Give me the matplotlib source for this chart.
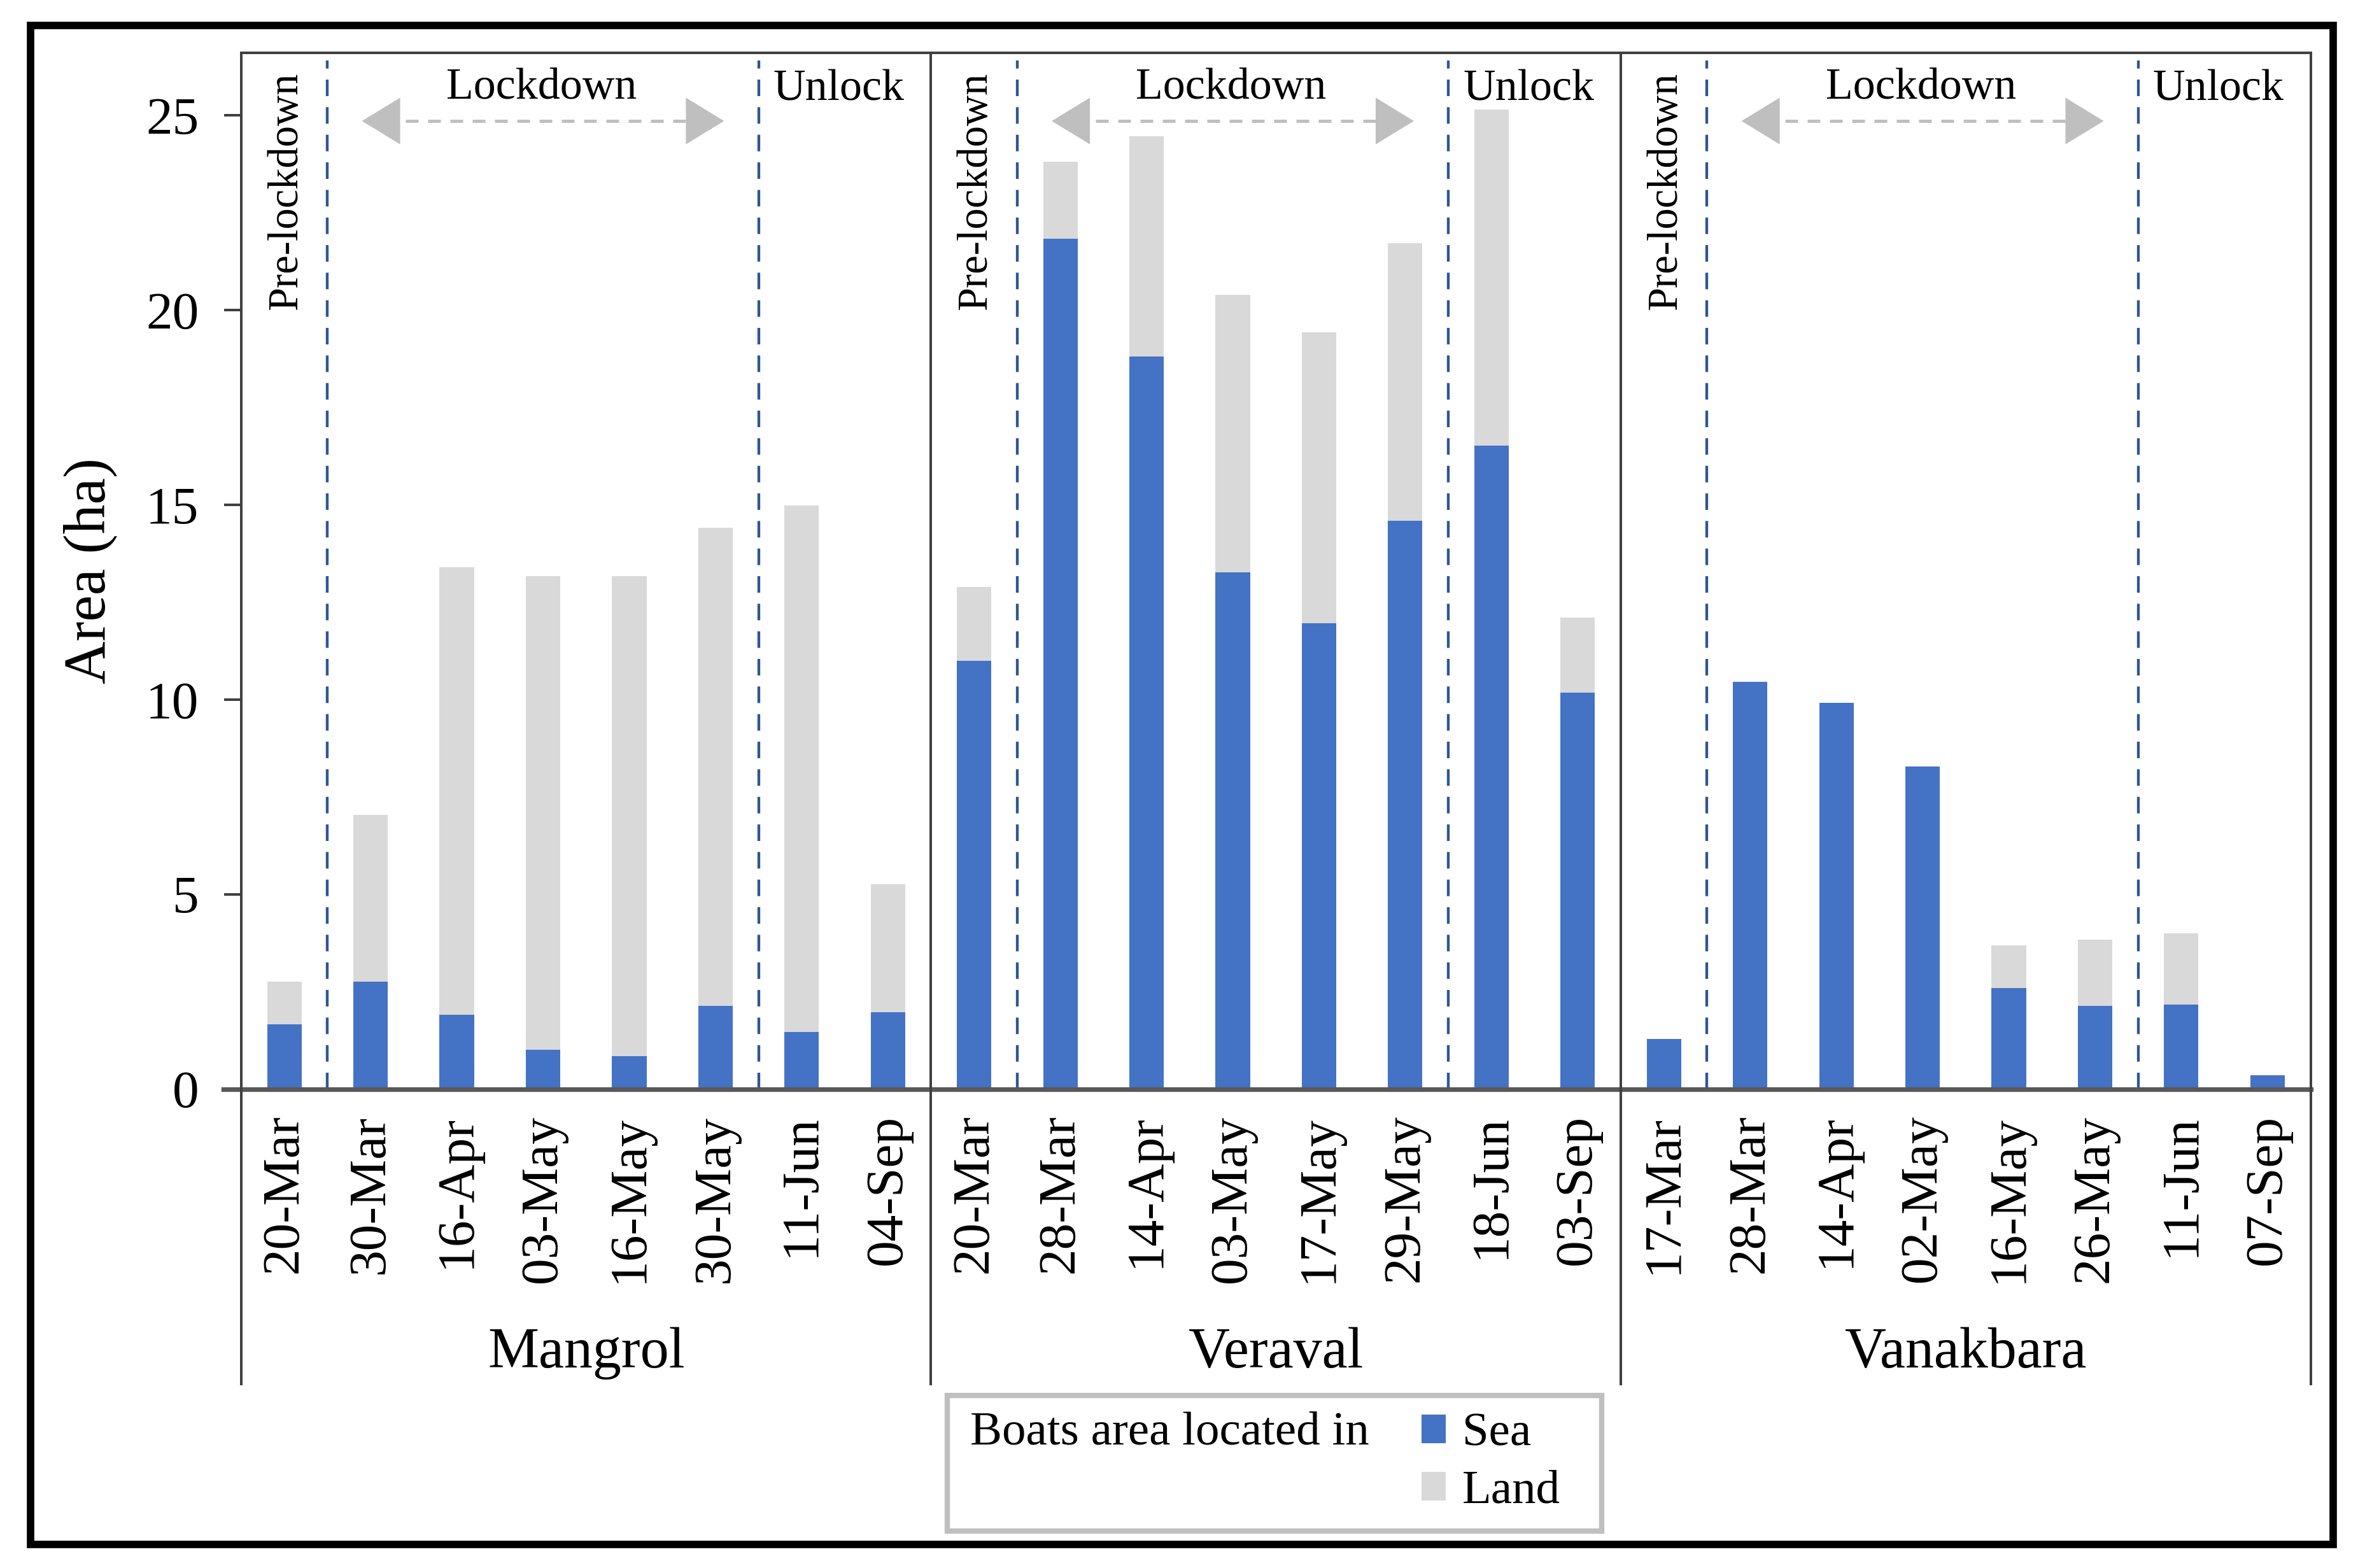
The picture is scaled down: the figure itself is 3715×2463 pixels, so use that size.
import matplotlib.pyplot as plt
import numpy as np
from matplotlib.lines import Line2D
from matplotlib.patches import Rectangle
import matplotlib.transforms as mtransforms

plt.rcParams["font.family"] = ["Liberation Serif", "DejaVu Serif"]

SEA = "#4472C4"
LAND = "#D9D9D9"
DASH = "#2F5597"
ARROW = "#BFBFBF"
EDGE = "#404040"

sites = ["Mangrol", "Veraval", "Vanakbara"]

mangrol_dates = ["20-Mar", "30-Mar", "16-Apr", "03-May", "16-May", "30-May", "11-Jun", "04-Sep"]
mangrol_sea = [1.66, 2.75, 1.90, 1.00, 0.85, 2.13, 1.47, 1.97]
mangrol_land = [1.09, 4.29, 11.49, 12.16, 12.31, 12.27, 13.51, 3.29]

veraval_dates = ["20-Mar", "28-Mar", "14-Apr", "03-May", "17-May", "29-May", "18-Jun", "03-Sep"]
veraval_sea = [10.99, 21.83, 18.81, 13.27, 11.96, 14.59, 16.52, 10.18]
veraval_land = [1.90, 1.97, 5.65, 7.12, 7.47, 7.12, 8.63, 1.93]

vanakbara_dates = ["17-Mar", "28-Mar", "14-Apr", "02-May", "16-May", "26-May", "11-Jun", "07-Sep"]
vanakbara_sea = [1.28, 10.45, 9.91, 8.28, 2.59, 2.13, 2.17, 0.35]
vanakbara_land = [0, 0, 0, 0, 1.09, 1.70, 1.82, 0]

dates = mangrol_dates + veraval_dates + vanakbara_dates
sea = np.array(mangrol_sea + veraval_sea + vanakbara_sea)
land = np.array(mangrol_land + veraval_land + vanakbara_land)
n_per_site = len(mangrol_dates)

fig = plt.figure(figsize=(3715 / 240, 2463 / 240), dpi=240)
ax = fig.add_axes([0.1020, 0.3055, 0.8750, 0.6608])

x = np.arange(len(dates))
sea_bars = ax.bar(x, sea, width=0.4, color=SEA, zorder=3)
land_bars = ax.bar(x, land, bottom=sea, width=0.4, color=LAND, zorder=3)

ax.set_xlim(-0.5, len(dates) - 0.5)
ax.set_ylim(0, 26.6)
ax.set_yticks([0, 5, 10, 15, 20, 25])
ax.tick_params(axis="y", direction="out", length=8, width=1.2, color=EDGE,
               labelsize=25, pad=12)
ax.set_xticks(x, dates, rotation=90)
ax.tick_params(axis="x", length=0, labelsize=25, pad=12)
ax.set_ylabel("Area (ha)", fontsize=28)
ax.yaxis.set_label_coords(-0.060, 0.5)

for side in ["left", "right", "bottom"]:
    ax.spines[side].set_visible(False)
ax.spines["top"].set_color(EDGE)
ax.spines["top"].set_linewidth(1.2)

trans = mtransforms.blended_transform_factory(ax.transData, ax.transAxes)

# zero line
ax.add_line(Line2D([-0.0087, 1], [0, 0], transform=ax.transAxes, color="#595959",
                   lw=2.2, clip_on=False, zorder=4))

# site separators running down into the label area
for bx in [-0.5, 7.5, 15.5, 23.5]:
    ax.add_line(Line2D([bx, bx], [1, -0.285], transform=trans, color=EDGE,
                       lw=1.2, clip_on=False, zorder=4))

for k, site in enumerate(sites):
    off = k * n_per_site
    for px in [off + 0.5, off + 5.5]:
        ax.plot([px, px], [0, 26.4], color=DASH, lw=1.3, ls=(0, (6, 4)), zorder=2)
    # lockdown arrow
    ax.plot([off + 1.15, off + 4.85], [24.85, 24.85], color=ARROW, lw=1.5,
            ls=(0, (4, 3)), zorder=2)
    for tip, tail in [(off + 0.9, off + 1.3), (off + 5.1, off + 4.7)]:
        ax.annotate("", xy=(tip, 24.85), xytext=(tail, 24.85),
                    arrowprops=dict(arrowstyle="-|>,head_length=0.9,head_width=0.55",
                                    color=ARROW, lw=0, shrinkA=0, shrinkB=0,
                                    mutation_scale=20))
    ax.text(off + 0.02, 26.1, "Pre-lockdown", rotation=90, ha="center", va="top",
            fontsize=20)
    ax.text(off + 2.98, 25.7, "Lockdown", ha="center", va="center", fontsize=21)
    ax.text(off + 6.43, 25.65, "Unlock", ha="center", va="center", fontsize=21)
    ax.text(off + 3.5, -0.255, site, transform=trans, ha="center", va="center",
            fontsize=27)

# legend block
fig.patches.append(Rectangle((0.4005, 0.0237), 0.2768, 0.0865, transform=fig.transFigure,
                             fill=False, edgecolor=ARROW, lw=2.5))
fig.text(0.4101, 0.0862, "Boats area located in", ha="left", va="center", fontsize=22.5)
fig.legend([sea_bars, land_bars], ["Sea", "Land"], loc="center left",
           bbox_to_anchor=(0.583, 0.067), frameon=False, fontsize=22.5,
           handlelength=0.5, handleheight=0.55, handletextpad=0.35, labelspacing=0.3)

# outer frame
fig.patches.append(Rectangle((0.0128, 0.0150), 0.9738, 0.9687, transform=fig.transFigure,
                             fill=False, edgecolor="black", lw=3.5))

fig.savefig("out.png", dpi=240, facecolor="white")
